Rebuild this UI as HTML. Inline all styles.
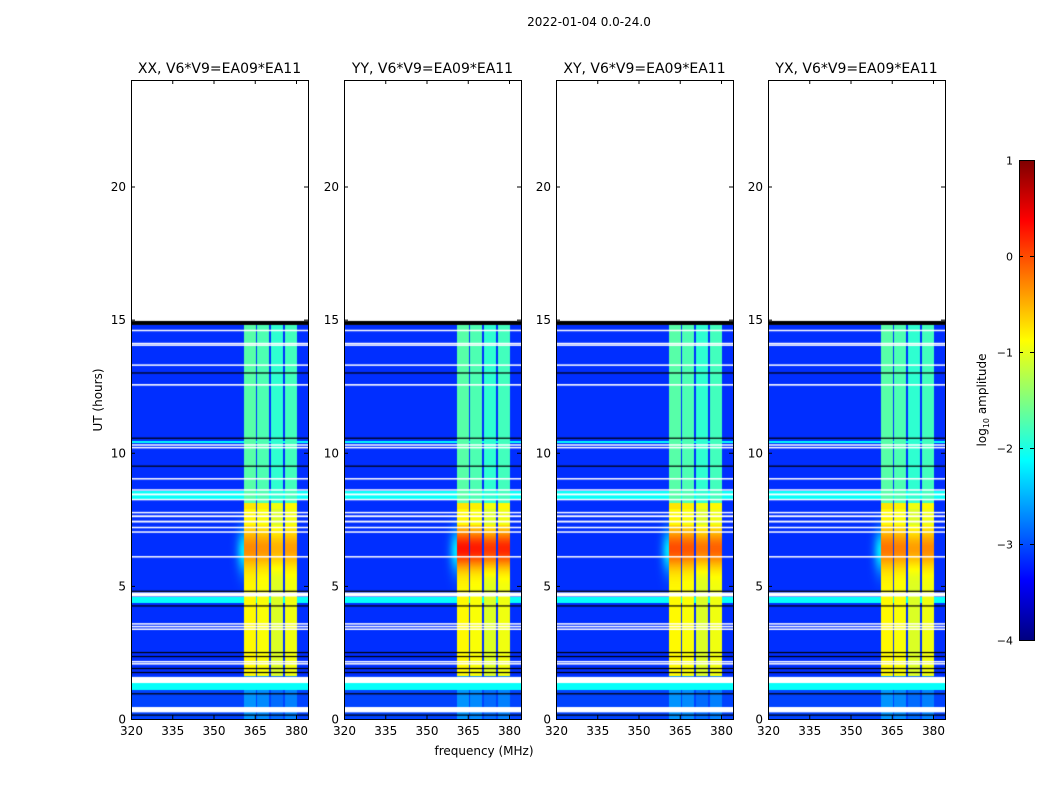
<!DOCTYPE html>
<html><head><meta charset="utf-8"><style>
body{margin:0;background:#fff;width:1050px;height:800px;overflow:hidden;position:relative;font-family:"DejaVu Sans","Liberation Sans",sans-serif}
canvas{position:absolute}
svg{position:absolute;left:0;top:0}
</style></head><body>
<canvas id="c0" width="177" height="639" style="left:131px;top:80px"></canvas>
<canvas id="c1" width="177" height="639" style="left:344px;top:80px"></canvas>
<canvas id="c2" width="177" height="639" style="left:556px;top:80px"></canvas>
<canvas id="c3" width="177" height="639" style="left:768px;top:80px"></canvas>
<svg id="s" width="1050" height="800">
<text x="589" y="26" font-size="12" text-anchor="middle">2022-01-04 0.0-24.0</text>
<text x="484" y="755" font-size="12" text-anchor="middle">frequency (MHz)</text>
<text transform="translate(102,400) rotate(-90)" font-size="12" text-anchor="middle">UT (hours)</text>
<defs><linearGradient id="jet" x1="0" y1="1" x2="0" y2="0">
<stop offset="0" stop-color="#00007f"/><stop offset="0.125" stop-color="#0000ff"/><stop offset="0.375" stop-color="#00ffff"/><stop offset="0.5" stop-color="#80ff80"/><stop offset="0.625" stop-color="#ffff00"/><stop offset="0.875" stop-color="#ff0000"/><stop offset="1" stop-color="#7f0000"/></linearGradient></defs>
<rect x="1019.5" y="160.5" width="15" height="480" fill="url(#jet)" stroke="#000"/>
<text transform="translate(986,400) rotate(-90)" font-size="12" text-anchor="middle">log<tspan font-size="8" dy="3">10</tspan><tspan dy="-3"> amplitude</tspan></text>
</svg>
<script>
const panels=["XX","YY","XY","YX"];
const peakLevel=[-0.4,0.2,-0.1,-0.3];
const bandLo=[361,366,371,376];
const bandHi=[365.3,370.3,375.3,380.3];
const bandGain=[0.1,0.05,-0.1,0.0];
const segStart=[0,1.6,7.9,8.1];
const segEnd=[1.6,7.9,8.1,14.8];
const bgLevel=[-3.05,-3.15,-3.15,-3.15];
const bandLevel=[-2.75,-0.95,-0.85,-1.8];
const cyanStart=[1.1,4.35,8.25,10.35];
const cyanEnd=[1.35,4.6,8.55,10.45];
const whiteStart=[0.25,1.35,2.05,2.13,3.35,3.45,3.55,4.6,6.08,7.0,7.18,7.38,7.58,7.73,8.22,8.4,8.58,9.0,10.18,10.28,12.52,13.28,14.03,14.1,14.58];
const whiteEnd=[0.45,1.58,2.1,2.18,3.4,3.5,3.6,4.75,6.12,7.05,7.22,7.45,7.65,7.78,8.27,8.47,8.63,9.05,10.22,10.32,12.58,13.32,14.07,14.13,14.62];
const blackRows=[0.15,0.95,1.75,1.9,2.35,2.5,4.25,4.8,9.5,10.55,13.0];
const yTicks=[0,5,10,15,20];
const xTicks=[320,335,350,365,380];
const cbTicks=[1,0,-1,-2,-3,-4];
const panelLeft=[131,344,556,768];
const W=177,H=639,TOP=80,BOT=719;
function xs(f){return (f-320)*2.75;}
function fx(px){return 320+px/2.75;}
function ys(h){return H-h*26.625;}
function hy(py){return (H-py)/26.625;}
function jet(v){let t=Math.max(0,Math.min(1,(v+4)/5));const c=a=>Math.max(0,Math.min(1,1.5-Math.abs(4*t-a)));return [c(3)*255,c(2)*255,c(1)*255];}
function value(p,h,f){
  let s=-1;for(let i=0;i<segStart.length;i++)if(h>=segStart[i]&&h<segEnd[i])s=i;
  if(s<0)return null;
  let v=bgLevel[s];
  for(let i=0;i<cyanStart.length;i++)if(h>=cyanStart[i]&&h<cyanEnd[i])v=-2.1;
  if(h>4.8&&h<7.9&&f<361) v+=0.9*Math.exp(-Math.pow((f-361)/2.5,2))*Math.exp(-Math.pow((h-6.3)/0.8,2));
  for(let b=0;b<bandLo.length;b++){
    if(f>=bandLo[b]&&f<bandHi[b]){
      let lv=bandLevel[s]+bandGain[b];
      if(h>4.9&&h<7.3){lv=lv+(peakLevel[p]+0.95)*Math.exp(-Math.pow((h-6.4)/0.7,2));}
      v=Math.max(v,lv);
    }
  }
  return v;
}
const svg=document.getElementById('s');
const NS='http://www.w3.org/2000/svg';
function mk(tag,attrs,txt){const e=document.createElementNS(NS,tag);for(const k in attrs)e.setAttribute(k,attrs[k]);if(txt!==undefined)e.textContent=txt;svg.appendChild(e);return e;}
panels.forEach((name,p)=>{
  const cv=document.getElementById('c'+p);const ctx=cv.getContext('2d');
  const img=ctx.createImageData(W,H);
  for(let py=0;py<H;py++){const h=hy(py+0.5);
    for(let px=0;px<W;px++){const v=value(p,h,fx(px+0.5));const k=(py*W+px)*4;
      if(v===null){img.data[k]=img.data[k+1]=img.data[k+2]=255;}else{const c=jet(v);img.data[k]=c[0];img.data[k+1]=c[1];img.data[k+2]=c[2];}
      img.data[k+3]=255;}}
  ctx.putImageData(img,0,0);
  ctx.fillStyle='#fff';
  for(let i=0;i<whiteStart.length;i++){const y1=ys(whiteEnd[i]),y2=ys(whiteStart[i]);ctx.fillRect(0,y1,W,Math.max(1.5,y2-y1));}
  ctx.fillStyle='#000';
  blackRows.forEach(h=>ctx.fillRect(0,ys(h)-0.5,W,1.2));
  ctx.fillRect(0,ys(14.95),W,ys(14.8)-ys(14.95));
  const L=panelLeft[p];
  const fr=mk('rect',{x:L+0.5,y:TOP+0.5,width:W,height:H,fill:'none',stroke:'#000'});
  
  
  const t=mk('text',{x:L+W/2,y:73,'font-size':14,'text-anchor':'middle'},name+', V6*V9=EA09*EA11');
  
  
  yTicks.forEach(v=>{const y=TOP+ys(v)+0.5;
    mk('line',{x1:L,x2:L+4,y1:y,y2:y,stroke:'#000'});mk('line',{x1:L+W-4,x2:L+W,y1:y,y2:y,stroke:'#000'});
    const lb=mk('text',{x:L-5,y:y+4,'font-size':12,'text-anchor':'end'},String(v));
    
    });
  xTicks.forEach(v=>{const x=L+xs(v)+0.5;
    mk('line',{x1:x,x2:x,y1:BOT,y2:BOT-4,stroke:'#000'});mk('line',{x1:x,x2:x,y1:TOP,y2:TOP+4,stroke:'#000'});
    const lb=mk('text',{x:x,y:BOT+16,'font-size':12,'text-anchor':'middle'},String(v));
    
    });
});
cbTicks.forEach(v=>{const y=160.5+(1-v)*96;
  mk('line',{x1:1019,x2:1023,y1:y,y2:y,stroke:'#000'});mk('line',{x1:1030,x2:1034,y1:y,y2:y,stroke:'#000'});
  const lb=mk('text',{x:1013,y:y+4,'font-size':11,'text-anchor':'end'},v<0?'\u2212'+(-v):String(v));
  
  });
</script>
</body></html>
